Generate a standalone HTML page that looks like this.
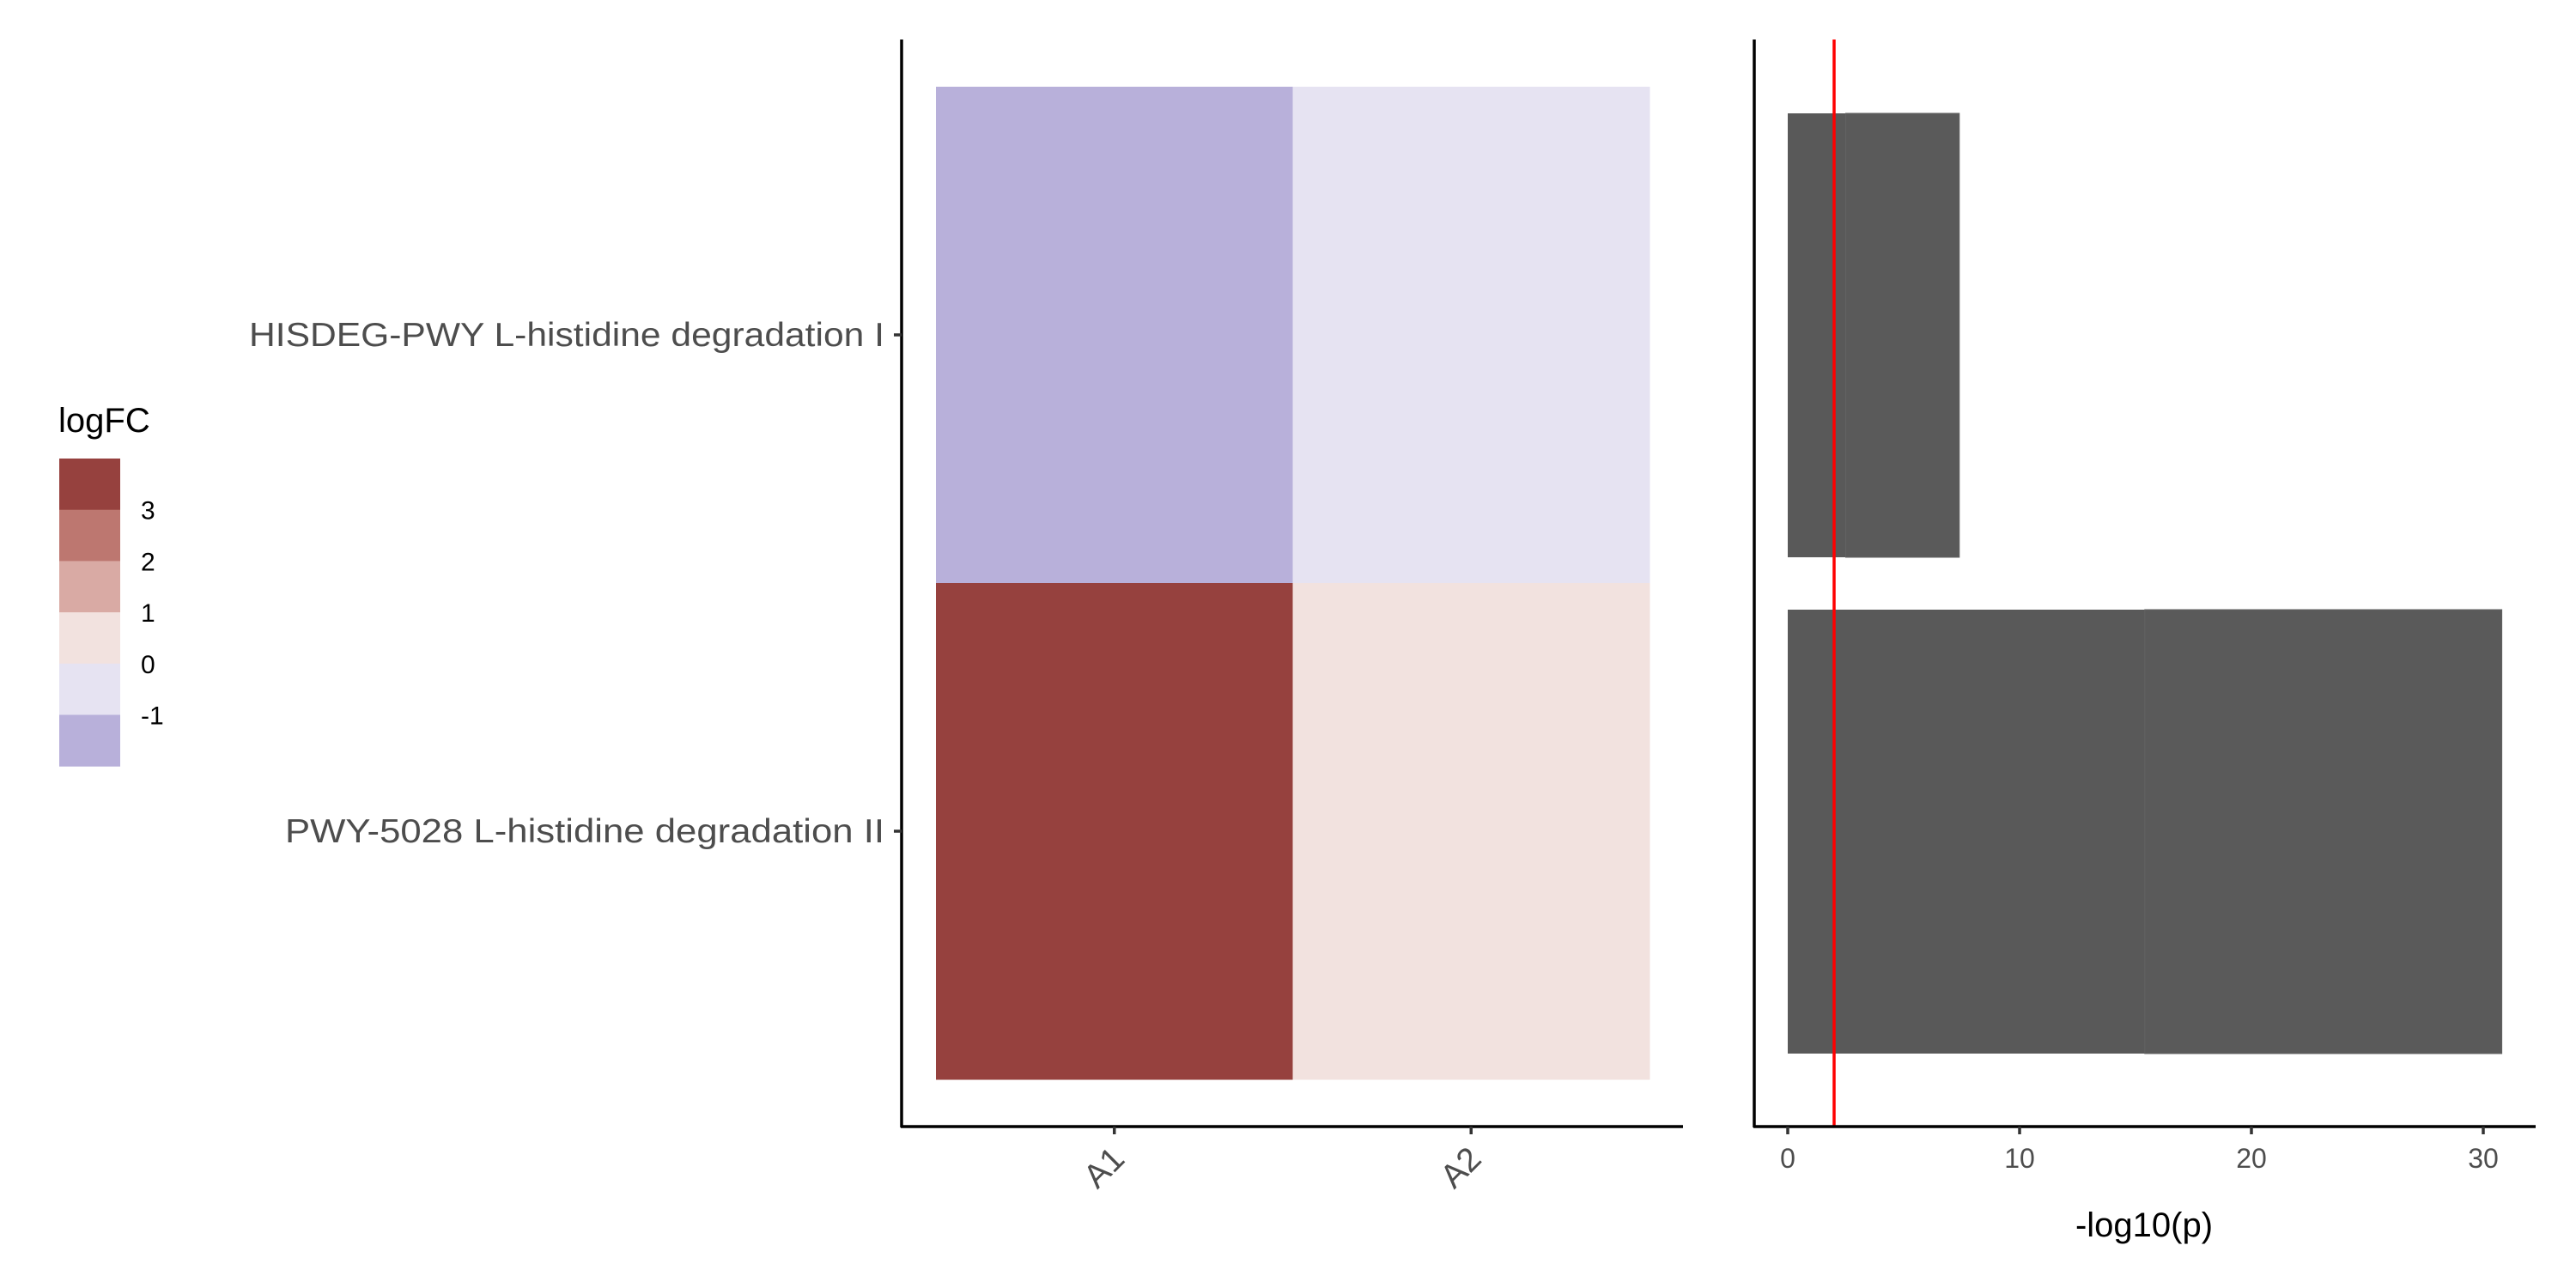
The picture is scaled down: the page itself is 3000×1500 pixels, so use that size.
<!DOCTYPE html>
<html><head><meta charset="utf-8"><style>
html,body{margin:0;padding:0;background:#fff;}
svg{display:block;font-family:"Liberation Sans","DejaVu Sans",sans-serif;}
</style></head><body>
<svg id="c" width="3000" height="1500" viewBox="0 0 3000 1500" xmlns="http://www.w3.org/2000/svg"></svg>
<script>
const pathways = ["HISDEG-PWY L-histidine degradation I", "PWY-5028 L-histidine degradation II"];
const samples = ["A1", "A2"];
const logfcA1 = [-1.2, 3.4];
const logfcA2 = [-0.3, 0.5];
const barSeg1 = [2.5, 15.4];
const barSeg2 = [4.9, 15.4];
const threshold = 2.0;
const xTicks = [0, 10, 20, 30];
const legendLabels = ["3", "2", "1", "0", "-1"];
const legendColors = ["#96413e", "#bd7770", "#d9aaa4", "#f2e2df", "#e6e3f2", "#b8b0da"];
const labelWidths = [740, 698];

const NS = "http://www.w3.org/2000/svg";
const svg = document.getElementById("c");
function mk(tag, attrs, parent) {
  const e = document.createElementNS(NS, tag);
  for (const k in attrs) e.setAttribute(k, attrs[k]);
  (parent || svg).appendChild(e);
  return e;
}
function colorFor(v) {
  if (v >= 3) return legendColors[0];
  if (v >= 2) return legendColors[1];
  if (v >= 1) return legendColors[2];
  if (v >= 0) return legendColors[3];
  if (v >= -1) return legendColors[4];
  return legendColors[5];
}
const hx0 = 1090, hcw = 415.5, hy0 = 101, hrh = 578;
const hxs = i => hx0 + i * hcw;
const hys = j => hy0 + j * hrh;
const bx0 = 2082, bpx = 27.0;
const bxs = v => bx0 + v * bpx;
const barTop = [132, 710], barH = 517;

const heat = mk("g", {});


const vals = [logfcA1, logfcA2];
for (let i = 0; i < samples.length; i++) {
  for (let j = 0; j < pathways.length; j++) {
    const r = mk("rect", {x: hxs(i), y: hys(j), width: hcw + 0.5, height: hrh + 0.5, fill: colorFor(vals[i][j])}, heat);
    
    
  }
}
let a = mk("path", {d: "M1050,46 V1313 M1049,1312 H1960", stroke: "#000", "stroke-width": 3.5, fill: "none"});


for (let j = 0; j < pathways.length; j++) {
  const y = hys(j) + hrh / 2;
  mk("line", {x1: 1041, x2: 1050, y1: y, y2: y, stroke: "#333", "stroke-width": 3.5});
  const t = mk("text", {x: 1030, y: y + 13, "text-anchor": "end", "font-size": 39, fill: "#4d4d4d", textLength: labelWidths[j], lengthAdjust: "spacingAndGlyphs"});
  t.textContent = pathways[j];
  
  
}
for (let i = 0; i < samples.length; i++) {
  const x = hxs(i) + hcw / 2;
  mk("line", {x1: x, x2: x, y1: 1312, y2: 1321, stroke: "#333", "stroke-width": 3.5});
  const t = mk("text", {x: x + 14, y: 1352, "text-anchor": "end", "font-size": 39, fill: "#4d4d4d", transform: `rotate(-45 ${x + 14} 1352)`});
  t.textContent = samples[i];
  
  
}
const bars = mk("g", {});


for (let j = 0; j < pathways.length; j++) {
  const r1 = mk("rect", {x: bxs(0), y: barTop[j], width: bxs(barSeg1[j]) - bxs(0), height: barH, fill: "#595959"}, bars);
  
  
  const r2 = mk("rect", {x: bxs(barSeg1[j]), y: barTop[j], width: bxs(barSeg1[j] + barSeg2[j]) - bxs(barSeg1[j]), height: barH, fill: "#5a5a5a", stroke: "#626262", "stroke-width": 1}, bars);
  
  
}
const thr = mk("line", {x1: bxs(threshold), x2: bxs(threshold), y1: 46, y2: 1312, stroke: "#ff0000", "stroke-width": 3.5});


a = mk("path", {d: "M2043,46 V1313 M2042,1312 H2953", stroke: "#000", "stroke-width": 3.5, fill: "none"});


for (const v of xTicks) {
  mk("line", {x1: bxs(v), x2: bxs(v), y1: 1312, y2: 1321, stroke: "#333", "stroke-width": 3.5});
  const t = mk("text", {x: bxs(v), y: 1360, "text-anchor": "middle", "font-size": 32, fill: "#4d4d4d"});
  t.textContent = v;
  
  
}
let t = mk("text", {x: 2497, y: 1440, "text-anchor": "middle", "font-size": 40, fill: "#000"});
t.textContent = "-log10(p)";


t = mk("text", {x: 68, y: 503, "font-size": 40, fill: "#000"});
t.textContent = "logFC";


for (let k = 0; k < legendColors.length; k++) {
  const r = mk("rect", {x: 69, y: 534 + k * 59.7, width: 71, height: 60.2, fill: legendColors[k]});
  
  
}
for (let k = 0; k < legendLabels.length; k++) {
  const lt = mk("text", {x: 164, y: 534 + (k + 1) * 59.7 + 11, "font-size": 30, fill: "#000"});
  lt.textContent = legendLabels[k];
  
  
}
</script>
</body></html>
